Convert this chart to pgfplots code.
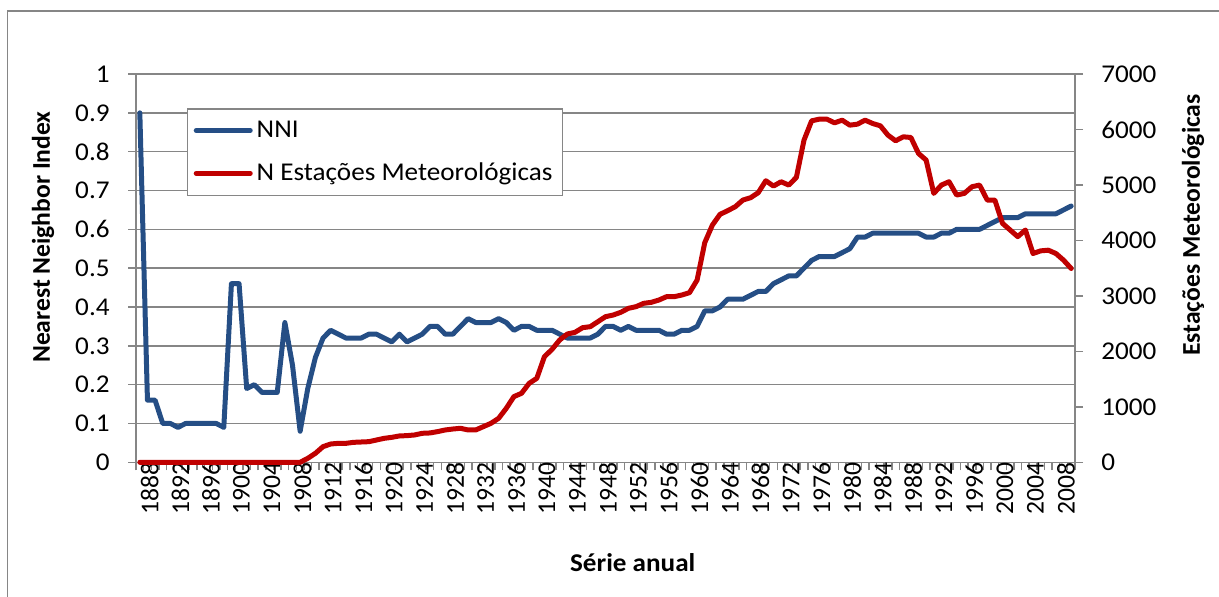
\documentclass[border=0pt]{standalone}
\usepackage{fontspec}
\setmainfont{Carlito}
\newfontfamily\hfont{Carlito}[FakeStretch=1.06]
\usepackage{pgfplots}
\usepackage{pgfplotstable}
\pgfplotsset{compat=1.18}
\definecolor{nniblue}{RGB}{37,78,133}
\definecolor{stred}{RGB}{192,0,0}
\definecolor{axgray}{RGB}{134,134,134}
\newcommand\cfont{\fontsize{12.8}{15}\selectfont}
\newcommand\hcfont{\hfont\fontsize{12.8}{15}\selectfont}

\pgfplotstableread{
year nni
1888 0.90
1889 0.16
1890 0.16
1891 0.10
1892 0.10
1893 0.09
1894 0.10
1895 0.10
1896 0.10
1897 0.10
1898 0.10
1899 0.09
1900 0.46
1901 0.46
1902 0.19
1903 0.20
1904 0.18
1905 0.18
1906 0.18
1907 0.36
1908 0.25
1909 0.08
1910 0.19
1911 0.27
1912 0.32
1913 0.34
1914 0.33
1915 0.32
1916 0.32
1917 0.32
1918 0.33
1919 0.33
1920 0.32
1921 0.31
1922 0.33
1923 0.31
1924 0.32
1925 0.33
1926 0.35
1927 0.35
1928 0.33
1929 0.33
1930 0.35
1931 0.37
1932 0.36
1933 0.36
1934 0.36
1935 0.37
1936 0.36
1937 0.34
1938 0.35
1939 0.35
1940 0.34
1941 0.34
1942 0.34
1943 0.33
1944 0.32
1945 0.32
1946 0.32
1947 0.32
1948 0.33
1949 0.35
1950 0.35
1951 0.34
1952 0.35
1953 0.34
1954 0.34
1955 0.34
1956 0.34
1957 0.33
1958 0.33
1959 0.34
1960 0.34
1961 0.35
1962 0.39
1963 0.39
1964 0.40
1965 0.42
1966 0.42
1967 0.42
1968 0.43
1969 0.44
1970 0.44
1971 0.46
1972 0.47
1973 0.48
1974 0.48
1975 0.50
1976 0.52
1977 0.53
1978 0.53
1979 0.53
1980 0.54
1981 0.55
1982 0.58
1983 0.58
1984 0.59
1985 0.59
1986 0.59
1987 0.59
1988 0.59
1989 0.59
1990 0.59
1991 0.58
1992 0.58
1993 0.59
1994 0.59
1995 0.60
1996 0.60
1997 0.60
1998 0.60
1999 0.61
2000 0.62
2001 0.63
2002 0.63
2003 0.63
2004 0.64
2005 0.64
2006 0.64
2007 0.64
2008 0.64
2009 0.65
2010 0.66
}\nnitable

\pgfplotstableread{
year st
1888 0
1889 0
1890 0
1891 0
1892 0
1893 0
1894 0
1895 0
1896 0
1897 0
1898 0
1899 0
1900 0
1901 0
1902 0
1903 0
1904 0
1905 0
1906 0
1907 0
1908 0
1909 0
1910 72
1911 162
1912 282
1913 330
1914 342
1915 342
1916 360
1917 366
1918 372
1919 402
1920 432
1921 450
1922 475
1923 481
1924 493
1925 523
1926 529
1927 553
1928 583
1929 600
1930 613
1931 583
1932 583
1933 643
1934 703
1935 793
1936 973
1937 1184
1938 1244
1939 1424
1940 1514
1941 1905
1942 2037
1943 2205
1944 2313
1945 2343
1946 2427
1947 2445
1948 2535
1949 2625
1950 2655
1951 2704
1952 2776
1953 2806
1954 2866
1955 2884
1956 2926
1957 2986
1958 2986
1959 3016
1960 3058
1961 3286
1962 3959
1963 4277
1964 4470
1965 4536
1966 4608
1967 4728
1968 4770
1969 4860
1970 5076
1971 4980
1972 5058
1973 4998
1974 5136
1975 5808
1976 6156
1977 6186
1978 6186
1979 6120
1980 6168
1981 6078
1982 6096
1983 6168
1984 6108
1985 6066
1986 5898
1987 5796
1988 5868
1989 5856
1990 5568
1991 5448
1992 4848
1993 4998
1994 5058
1995 4818
1996 4848
1997 4968
1998 4998
1999 4728
2000 4728
2001 4308
2002 4188
2003 4068
2004 4188
2005 3764
2006 3812
2007 3824
2008 3764
2009 3644
2010 3494
}\sttable

\begin{document}
\begin{tikzpicture}[x=1pt,y=1pt]
\useasboundingbox (0,0) rectangle (609.5,298);
\draw[axgray, line width=0.75pt] (3.75,-20) rectangle (640,292.5);
\begin{axis}[
  scale only axis, width=469.5pt, height=194.15pt,
  at={(68pt,66.85pt)}, anchor=south west,
  xmin=1887.5, xmax=2010.5, ymin=0, ymax=1,
  axis x line*=bottom, axis y line*=left,
  axis line style={axgray, line width=0.75pt},
  tick align=outside,
  every tick/.style={axgray, line width=0.75pt},
  major tick length=4pt,
  xtick={1887.5,1888.5,...,2010.5},
  xticklabels={},
  extra x ticks={1888,1892,1896,1900,1904,1908,1912,1916,1920,1924,1928,1932,1936,1940,1944,1948,1952,1956,1960,1964,1968,1972,1976,1980,1984,1988,1992,1996,2000,2004,2008},
  extra x tick labels={1888,1892,1896,1900,1904,1908,1912,1916,1920,1924,1928,1932,1936,1940,1944,1948,1952,1956,1960,1964,1968,1972,1976,1980,1984,1988,1992,1996,2000,2004,2008},
  extra x tick style={major tick length=0pt},
  xticklabel style={font=\cfont, rotate=90, anchor=east, yshift=-5pt, inner sep=0pt},
  ytick={0,0.1,0.2,0.3,0.4,0.5,0.6,0.7,0.8,0.9,1},
  yticklabels={0,0.1,0.2,0.3,0.4,0.5,0.6,0.7,0.8,0.9,1},
  yticklabel style={font=\hcfont, anchor=east, xshift=-9pt, inner sep=0pt},
  ymajorgrids, grid style={axgray, line width=0.75pt},
  xlabel={\textbf{Série anual}},
  xlabel style={font=\hcfont, at={(axis description cs:0.529,-0.259)}, anchor=center},
  ylabel={\textbf{Nearest Neighbor Index}},
  ylabel style={font=\cfont, at={(axis description cs:-0.099,0.58)}, anchor=center, rotate=0},
  clip=false,
]
\addplot[nniblue, line width=2.5pt, line join=round, line cap=round] table[x=year,y=nni] {\nnitable};
\end{axis}
\begin{axis}[
  scale only axis, width=469.5pt, height=194.15pt,
  at={(68pt,66.85pt)}, anchor=south west,
  xmin=1887.5, xmax=2010.5, ymin=0, ymax=7000,
  axis x line=none, axis y line*=right,
  axis line style={axgray, line width=0.75pt},
  tick align=outside,
  every tick/.style={axgray, line width=0.75pt},
  major tick length=4pt,
  ytick={0,1000,2000,3000,4000,5000,6000,7000},
  yticklabels={0,1000,2000,3000,4000,5000,6000,7000},
  yticklabel style={font=\hcfont, anchor=west, xshift=9pt, inner sep=0pt},
  ylabel={\textbf{Estações Meteorológicas}},
  ylabel style={font=\cfont, at={(axis description cs:1.1257,0.611)}, anchor=center, rotate=0},
  legend style={at={(axis description cs:0.0543,0.9124)}, anchor=north west,
    draw=axgray, line width=0.75pt, fill=white, font=\hcfont,
    inner xsep=3pt, inner ysep=4pt, row sep=7.3pt,
    legend cell align=left},
  legend image code/.code={\draw[#1, line cap=round] (0pt,0pt) -- (27pt,0pt);},
  clip=false,
]
\addlegendimage{nniblue, line width=2.5pt}
\addlegendentry{NNI}
\addplot[stred, line width=2.5pt, line join=round, line cap=round] table[x=year,y=st] {\sttable};
\addlegendentry{N Estações Meteorológicas}
\end{axis}
\end{tikzpicture}
\end{document}
